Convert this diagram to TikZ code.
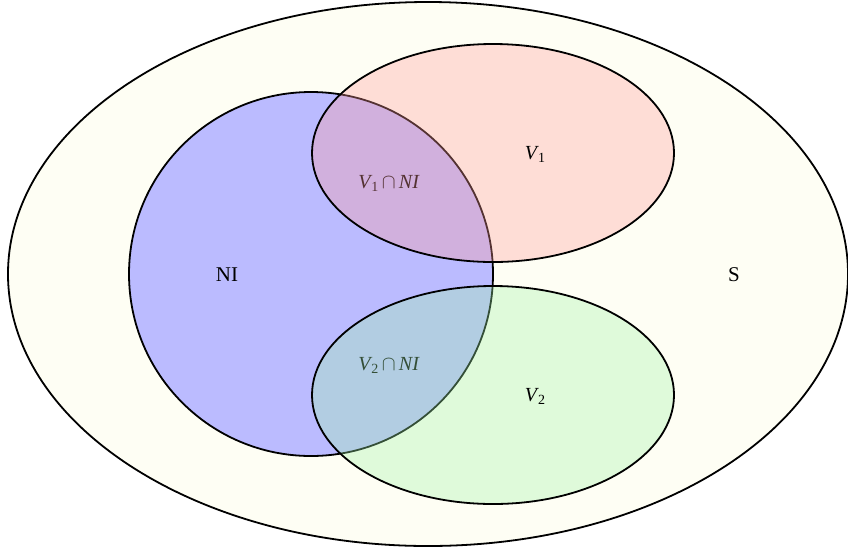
\documentclass[tikz,border=0pt]{standalone}
\usepackage{fontspec}
\setmainfont{Liberation Serif}
\definecolor{outerfill}{RGB}{254,254,244}
\definecolor{nifill}{RGB}{187,187,255}
\definecolor{vonefill}{RGB}{255,154,153}
\definecolor{vtwofill}{RGB}{160,242,168}
\newcommand\mysubidx[1]{\raisebox{-0.32ex}{\fontsize{14}{14}\selectfont\upshape #1}}
\newcommand\myvar[1]{\textit{V}\kern-1pt\mysubidx{#1}}
\newcommand\mycap{\,$\cap$\,}
\tikzset{
  setline/.style={line width=1.8pt, draw=black},
  lbl/.style={font=\fontsize{20}{23}\selectfont, inner sep=0pt},
  biglbl/.style={font=\fontsize{21}{24}\selectfont, inner sep=0pt},
}
\begin{document}
\begin{tikzpicture}[x=1pt,y=-1pt]
\useasboundingbox (0,0) rectangle (848,550);
\fill[outerfill] (428,274) ellipse [x radius=420, y radius=272];
\draw[setline] (428,274) ellipse [x radius=420, y radius=272];
\draw[setline, fill=nifill] (311,274) circle [radius=182];
\node[biglbl] (ni) at (227,275) {NI};
\node[biglbl] (s) at (734,275) {S};
\node[lbl] (v1ni) at (389,183) {\myvar{1}\mycap\textit{NI}};
\node[lbl] (v2ni) at (389,365) {\myvar{2}\mycap\textit{NI}};
\draw[setline, fill=vonefill, fill opacity=0.33] (493,153) ellipse [x radius=181, y radius=109];
\draw[setline, fill=vtwofill, fill opacity=0.33] (493,395) ellipse [x radius=181, y radius=109];
\node[lbl] (v1) at (535,154) {\myvar{1}};
\node[lbl] (v2) at (535,396) {\myvar{2}};
\end{tikzpicture}
\end{document}
